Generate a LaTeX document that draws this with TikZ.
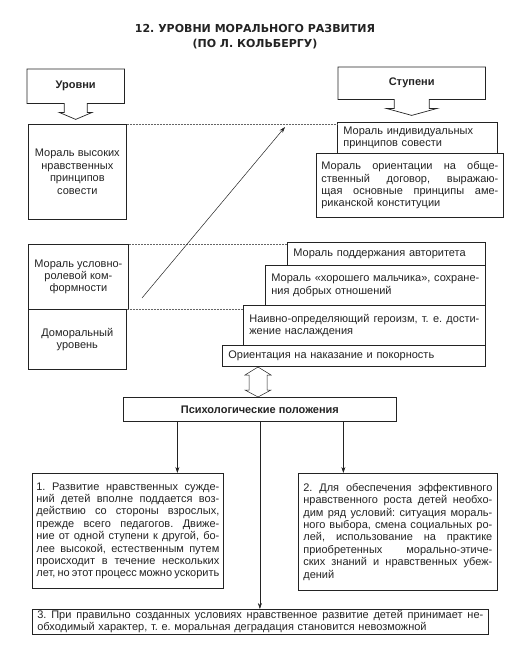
\documentclass[tikz,border=0pt]{standalone}
\usepackage{fontspec}
\setmainfont{Liberation Sans}
\newfontfamily\headfont{DejaVu Sans}
\usepackage{xcolor}
\usepackage{tikz}
\usetikzlibrary{arrows.meta}
\definecolor{inkgray}{RGB}{35, 35, 35}
\frenchspacing
\newcommand{\justline}[1]{\leavevmode{\spaceskip=0.278em plus 1fil minus 0.12em\hbox to \jwidth{#1}}}

\begin{document}
\begin{tikzpicture}[x=1pt, y=-1pt,
  box/.style={draw=inkgray, line width=0.7pt, inner xsep=6pt, inner ysep=1pt, anchor=north west,
    font=\fontsize{11}{12.4}\selectfont, text=inkgray},
  lvlbox/.style={box, align=center},
  stagebox/.style={box, align=left},
  tw/.style={text width=#1, execute at begin node={\def\jwidth{#1pt}}},
  headbox/.style={anchor=north west, inner sep=0pt, font=\bfseries\fontsize{11}{13}\selectfont, text=inkgray},
  outl/.style={draw=inkgray, line width=0.7pt},
  ttl/.style={align=center, font=\headfont\bfseries\fontsize{11}{15.5}\selectfont, text=inkgray},
  arr/.style={draw=inkgray, line width=0.5pt, -{Stealth[length=6pt, width=4pt]}},
  guide/.style={draw=inkgray!70, line width=0.5pt, densely dotted}]
\useasboundingbox (0,0) rectangle (509,653);

\node[ttl] (title) at (255,36.5) {12. УРОВНИ МОРАЛЬНОГО РАЗВИТИЯ\\(ПО Л. КОЛЬБЕРГУ)};

\node[headbox, minimum width=97, minimum height=34] (levels) at (27,69) {Уровни};
\draw[outl] (levels.north west) -- (levels.north east) -- (levels.south east)
  -- ([xshift=11.5pt]levels.south) -- ++(0,9) -- ++(5,0) -- ([yshift=-16pt]levels.south)
  -- ([xshift=-16.5pt, yshift=-9pt]levels.south) -- ++(5,0) -- ([xshift=-11.5pt]levels.south)
  -- (levels.south west) -- cycle;

\node[headbox, minimum width=147, minimum height=32] (stages) at (338,67) {Ступени};
\draw[outl] (stages.north west) -- (stages.north east) -- (stages.south east)
  -- ([xshift=17.5pt]stages.south) -- ++(0,9) -- ++(8,0) -- ([yshift=-16pt]stages.south)
  -- ([xshift=-25.5pt, yshift=-9pt]stages.south) -- ++(8,0) -- ([xshift=-17.5pt]stages.south)
  -- (stages.south west) -- cycle;

\node[lvlbox, minimum width=98, minimum height=95] (high) at (28,124) {Мораль высоких\\нравственных\\принципов\\совести};
\node[lvlbox, minimum width=98, minimum height=65] (conv) at (28,244) {Мораль условно-\\ролевой ком-\\формности};
\node[lvlbox, minimum width=98, minimum height=60] (pre) at (28,309) {Доморальный\\уровень};

\node[stagebox, tw=148, minimum height=31] (st6) at (337,122) {Мораль индивидуальных\\принципов совести};
\node[stagebox, inner xsep=5pt, tw=177, minimum height=64] (st5) at (316,153) {\justline{Мораль ориентации на обще-}\\\justline{ственный договор, выражаю-}\\\justline{щая основные принципы аме-}\\риканской конституции};
\node[stagebox, tw=186, minimum height=23] (st4) at (287,242) {Мораль поддержания авторитета};
\node[stagebox, tw=208, minimum height=40] (st3) at (265,265) {\justline{Мораль «хорошего мальчика», сохране-}\\ния добрых отношений};
\node[stagebox, tw=230, minimum height=40] (st2) at (243,305) {\justline{Наивно-определяющий героизм, т. е. дости-}\\жение наслаждения};
\node[stagebox, tw=251, minimum height=21] (st1) at (222,345) {Ориентация на наказание и покорность};

\draw[guide] (high.north east) -- (high.north east -| st6.west);
\draw[guide] (conv.north east) -- (conv.north east -| st4.west);
\draw[guide] (pre.north east) -- (pre.north east -| st2.west);

\coordinate (diagfrom) at (142,298);
\coordinate (diagto) at (285,127);
\draw[arr] (diagfrom) -- (diagto);

\coordinate (dtop) at (258,367);
\coordinate (dbot) at (258,397);
\draw[outl, line width=0.5pt, fill=white] (dtop) -- ++(13,8) -- ++(-4,0) -- ++(0,15) -- ++(4,0) -- (dbot)
  -- ++(-13,-7) -- ++(4,0) -- ++(0,-15) -- ++(-4,0) -- cycle;

\node[box, font=\bfseries\fontsize{11}{13}\selectfont, minimum width=273, minimum height=24] (psych) at (123,397) {Психологические положения};

\node[stagebox, inner xsep=4pt, tw=183, minimum height=115] (p1) at (32,473) {\justline{1. Развитие нравственных сужде-}\\\justline{ний детей вполне поддается воз-}\\\justline{действию со стороны взрослых,}\\\justline{прежде всего педагогов. Движе-}\\\justline{ние от одной ступени к другой, бо-}\\\justline{лее высокой, естественным путем}\\\justline{происходит в течение нескольких}\\\justline{лет, но этот процесс можно ускорить}};
\node[stagebox, inner xsep=5pt, tw=189, minimum height=117] (p2) at (298,473) {\justline{2. Для обеспечения эффективного}\\\justline{нравственного роста детей необхо-}\\\justline{дим ряд условий: ситуация мораль-}\\\justline{ного выбора, смена социальных ро-}\\\justline{лей, использование на практике}\\\justline{приобретенных морально-этиче-}\\\justline{ских знаний и нравственных убеж-}\\дений};
\node[stagebox, inner xsep=5pt, tw=446, minimum height=21] (p3) at (32,609) {\justline{3. При правильно созданных условиях нравственное развитие детей принимает не-}\\обходимый характер, т. е. моральная деградация становится невозможной};

\path (psych.south) ++(-82.5,0) coordinate (psl);
\path (psych.south) ++(83.5,0) coordinate (psr);
\draw[arr] (psl) -- (psl |- p1.north);
\draw[arr] (psych.south) -- (psych.south |- p3.north);
\draw[arr] (psr) -- (psr |- p2.north);
\end{tikzpicture}
\end{document}
